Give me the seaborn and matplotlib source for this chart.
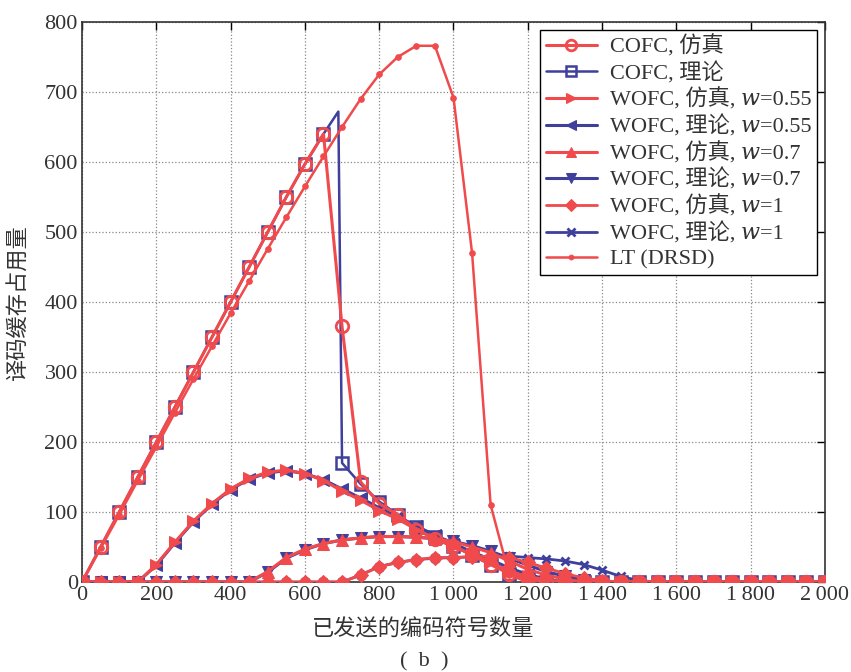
import numpy as np
import pandas as pd
import matplotlib
matplotlib.use("Agg")
import matplotlib.pyplot as plt
import seaborn as sns

sns.set_style("white")
plt.rcParams["font.family"] = ["Liberation Serif", "Noto Sans CJK SC",
                               "DejaVu Serif", "DejaVu Sans", "STIXGeneral"]

W = "\U0001D464"  # mathematical italic small w

# number of encoded symbols sent
x = list(range(0, 2001, 50))

def pad(vals):
    return vals + [0] * (len(x) - len(vals))

# COFC, simulation
cofc_sim = pad([0, 50, 100, 150, 200, 250, 300, 350, 400, 450, 500, 550, 597, 640,
                365, 143, 112, 96, 75, 62, 52, 38, 25, 12, 4])
# COFC, theory (extra point at the peak x=690)
cofc_th_x = list(range(0, 651, 50)) + [690] + list(range(700, 2001, 50))
cofc_th = [0, 50, 100, 150, 200, 250, 300, 350, 400, 450, 500, 550, 597, 640, 672,
           170, 140, 115, 96, 78, 64, 52, 38, 25, 12, 4]
cofc_th = cofc_th + [0] * (len(cofc_th_x) - len(cofc_th))

# WOFC, w = 0.55
wofc55_sim = pad([0, 0, 0, 0, 25, 57, 87, 112, 133, 148, 157, 160, 155, 145, 130,
                  117, 102, 90, 75, 62, 50, 40, 28, 15, 8, 3])
wofc55_th = pad([0, 0, 0, 0, 24, 56, 86, 111, 132, 147, 156, 159, 155, 146, 133,
                 120, 106, 93, 80, 67, 55, 43, 32, 20, 11, 4])
# WOFC, w = 0.7
wofc07_sim = pad([0, 0, 0, 0, 0, 0, 0, 0, 0, 0, 15, 35, 47, 55, 60, 63, 65, 65, 64,
                  62, 58, 50, 42, 30, 18, 10, 4])
wofc07_th = pad([0, 0, 0, 0, 0, 0, 0, 0, 0, 0, 14, 34, 46, 55, 60, 63, 65, 65, 64,
                 62, 58, 52, 44, 34, 24, 15, 8, 3])
# WOFC, w = 1
wofc1_sim = pad([0, 0, 0, 0, 0, 0, 0, 0, 0, 0, 0, 0, 0, 0, 0, 10, 22, 28, 32, 35,
                 35, 36, 37, 35, 28, 20, 12, 6, 2])
wofc1_th = pad([0, 0, 0, 0, 0, 0, 0, 0, 0, 0, 0, 0, 0, 0, 0, 10, 22, 28, 32, 34,
                35, 36, 37, 37, 35, 33, 30, 25, 17, 8, 2])
# LT (DRSD)
lt = pad([0, 48, 96, 145, 193, 242, 290, 337, 384, 430, 476, 521, 565, 608, 650,
          690, 725, 750, 766, 766, 692, 470, 110, 10])

RED = "#f04a4c"
BLUE = "#3f3f9c"

fig = plt.figure(figsize=(8.51, 6.72), dpi=100)
ax = fig.add_axes([0.0964, 0.1339, 0.8730, 0.8334])

series = [
    (x, cofc_sim, "COFC, 仿真", RED,
     dict(marker="o", markersize=9, mfc="none", mew=2.0, lw=2.2), 5),
    (cofc_th_x, cofc_th, "COFC, 理论", BLUE,
     dict(marker="s", markersize=9, mfc="none", mew=1.8, lw=1.8,
          markevery=[i for i in range(len(cofc_th_x)) if cofc_th_x[i] != 690]), 3),
    (x, wofc55_sim, f"WOFC, 仿真, {W}=0.55", RED, dict(marker=">", markersize=9, lw=2.2), 5),
    (x, wofc55_th, f"WOFC, 理论, {W}=0.55", BLUE, dict(marker="<", markersize=9, lw=2.2), 3),
    (x, wofc07_sim, f"WOFC, 仿真, {W}=0.7", RED, dict(marker="^", markersize=9, lw=2.2), 5),
    (x, wofc07_th, f"WOFC, 理论, {W}=0.7", BLUE, dict(marker="v", markersize=9, lw=2.2), 3),
    (x, wofc1_sim, f"WOFC, 仿真, {W}=1", RED, dict(marker="D", markersize=7.5, lw=2.0), 5),
    (x, wofc1_th, f"WOFC, 理论, {W}=1", BLUE, dict(marker="x", markersize=6, mew=2, lw=2.0), 3),
    (x, lt, "LT (DRSD)", RED, dict(marker="o", markersize=4, lw=1.8), 6),
]

for sx, sy, label, color, style, z in series:
    df = pd.DataFrame({"x": sx, "y": sy})
    sns.lineplot(data=df, x="x", y="y", ax=ax, color=color, label=label,
                 mec=color, zorder=z, sort=False, **style)

ax.set_xlim(0, 2000)
ax.set_ylim(0, 800)
xt = list(range(0, 2001, 200))
ax.set_xticks(xt)
ax.set_xticklabels([f"{v:,}".replace(",", "\u2009") for v in xt])
ax.set_yticks(range(0, 801, 100))
ax.tick_params(direction="in", top=True, right=True, length=6, width=1,
               labelsize=16, colors="black", pad=3)
for lab in ax.get_xticklabels() + ax.get_yticklabels():
    lab.set_color("#333333")
ax.grid(True, linestyle=":", color="#888888", linewidth=0.9)
for sp in ax.spines.values():
    sp.set_color("#333333")
    sp.set_linewidth(1.2)

ax.set_xlabel("已发送的编码符号数量", fontsize=16, color="#333333")
ax.xaxis.set_label_coords(0.459, -0.066)
ax.set_ylabel("译码缓存占用量", fontsize=16, color="#333333")
ax.yaxis.set_label_coords(-0.070, 0.5)

leg = ax.legend(loc="upper right", fontsize=16, frameon=True, fancybox=False,
                edgecolor="black", framealpha=1, handlelength=2.3,
                borderaxespad=0.35, labelspacing=0.2, borderpad=0.25,
                handletextpad=0.6, markerscale=0.85)
leg.get_frame().set_linewidth(1.0)
for t in leg.get_texts():
    t.set_color("#333333")

fig.text(0.498, 1 - 662 / 672, "(  b  )", fontsize=16, ha="center", va="center",
         color="#333333")

fig.savefig("out.png", dpi=100)
